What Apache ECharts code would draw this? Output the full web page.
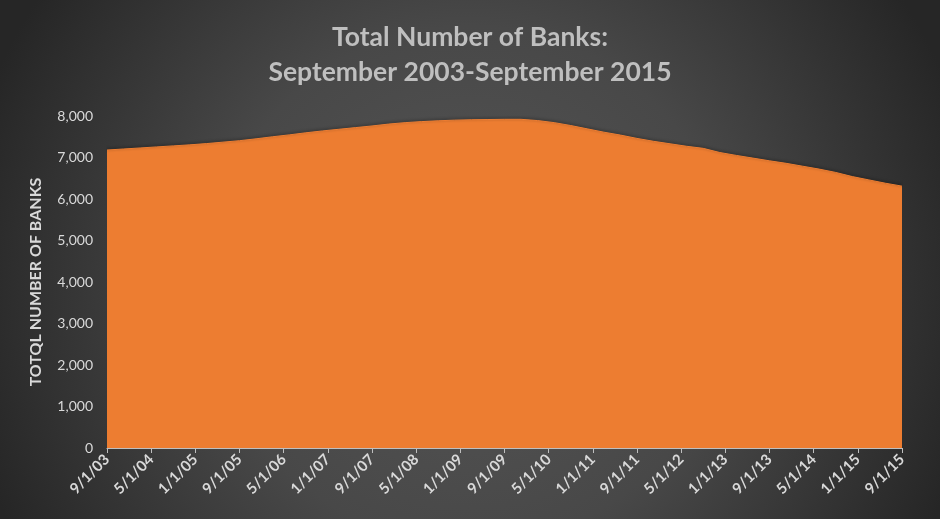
<!DOCTYPE html>
<html>
<head>
<meta charset="utf-8">
<script src="https://cdn.jsdelivr.net/npm/echarts@6/dist/echarts.min.js"></script>
<style>
html,body{margin:0;padding:0;background:#2a2a2a;}
#chart{width:940px;height:519px;}
</style>
</head>
<body>
<div id="chart"></div>
<script>
// Quarterly observations (year-month)
const dates = [
  '2003-09','2003-12','2004-03','2004-06','2004-09','2004-12','2005-03','2005-06','2005-09','2005-12',
  '2006-03','2006-06','2006-09','2006-12','2007-03','2007-06','2007-09','2007-12','2008-03','2008-06',
  '2008-09','2008-12','2009-03','2009-06','2009-09','2009-12','2010-03','2010-06','2010-09','2010-12',
  '2011-03','2011-06','2011-09','2011-12','2012-03','2012-06','2012-09','2012-12','2013-03','2013-06',
  '2013-09','2013-12','2014-03','2014-06','2014-09','2014-12','2015-03','2015-06','2015-09'
];
const banks = [
  7180,7205,7230,7255,7280,7305,7335,7370,7405,7450,
  7500,7545,7595,7640,7680,7720,7760,7805,7840,7865,
  7885,7900,7910,7915,7920,7920,7890,7840,7770,7690,
  7610,7540,7460,7390,7330,7270,7220,7120,7050,6985,
  6920,6860,6790,6720,6640,6540,6460,6380,6310
];
const titleLines = ['Total Number of Banks:', 'September 2003-September 2015'];
const yAxisName = 'TOTQL NUMBER OF BANKS';
const startYear = 2003, startMonth = 9;
const tickStepMonths = 8;

function monthIndex(s){
  const [y,m] = s.split('-').map(Number);
  return (y - startYear) * 12 + (m - startMonth);
}
function monthLabel(idx){
  const total = startMonth - 1 + idx;
  const y = startYear + Math.floor(total / 12);
  const m = (total % 12) + 1;
  return m + '/1/' + String(y % 100).padStart(2, '0');
}
const seriesData = dates.map((d, i) => [monthIndex(d), banks[i]]);
const maxIdx = monthIndex(dates[dates.length - 1]);

const chart = echarts.init(document.getElementById('chart'), null, {renderer:'canvas'});
const font = 'Lato, "Open Sans", sans-serif';
chart.setOption({
  backgroundColor: {
    type: 'radial', x: 0.5, y: 0.55, r: 1.0,
    colorStops: [
      {offset: 0, color: '#565656'},
      {offset: 0.5, color: '#484848'},
      {offset: 1, color: '#262626'}
    ]
  },
  title: {
    text: titleLines.join('\n'),
    left: 'center',
    top: 15,
    textStyle: {color: '#bfbfbf', fontSize: 26.5, fontWeight: 'bold', fontFamily: font, lineHeight: 35}
  },
  grid: {left: 107, right: 38, top: 116, bottom: 71, containLabel: false},
  xAxis: {
    type: 'value',
    min: 0,
    max: maxIdx,
    interval: tickStepMonths,
    splitLine: {show: false},
    axisLine: {show: true, lineStyle: {color: '#bfbfbf', width: 1}},
    axisTick: {show: true, length: 5, lineStyle: {color: '#bfbfbf'}},
    axisLabel: {
      rotate: 45,
      color: '#d9d9d9',
      fontSize: 15,
      fontWeight: 'bold',
      fontFamily: font,
      margin: 9,
      showMinLabel: true,
      showMaxLabel: true,
      formatter: v => monthLabel(v)
    }
  },
  yAxis: {
    type: 'value',
    min: 0,
    max: 8000,
    interval: 1000,
    name: yAxisName,
    nameLocation: 'middle',
    nameGap: 63,
    nameRotate: 90,
    nameTextStyle: {color: '#d9d9d9', fontSize: 16, fontWeight: 'bold', fontFamily: font},
    splitLine: {show: false},
    axisLine: {show: false},
    axisTick: {show: false},
    axisLabel: {
      color: '#d9d9d9',
      fontSize: 14,
      fontFamily: font,
      margin: 14,
      formatter: v => v.toLocaleString('en-US')
    }
  },
  series: [{
    type: 'line',
    data: seriesData,
    symbol: 'none',
    smooth: false,
    lineStyle: {color: '#ED7D31', width: 1, shadowColor: 'rgba(0,0,0,0.55)', shadowBlur: 3, shadowOffsetY: -1},
    areaStyle: {color: '#ED7D31', opacity: 1},
    animation: false
  }]
});
</script>
</body>
</html>
